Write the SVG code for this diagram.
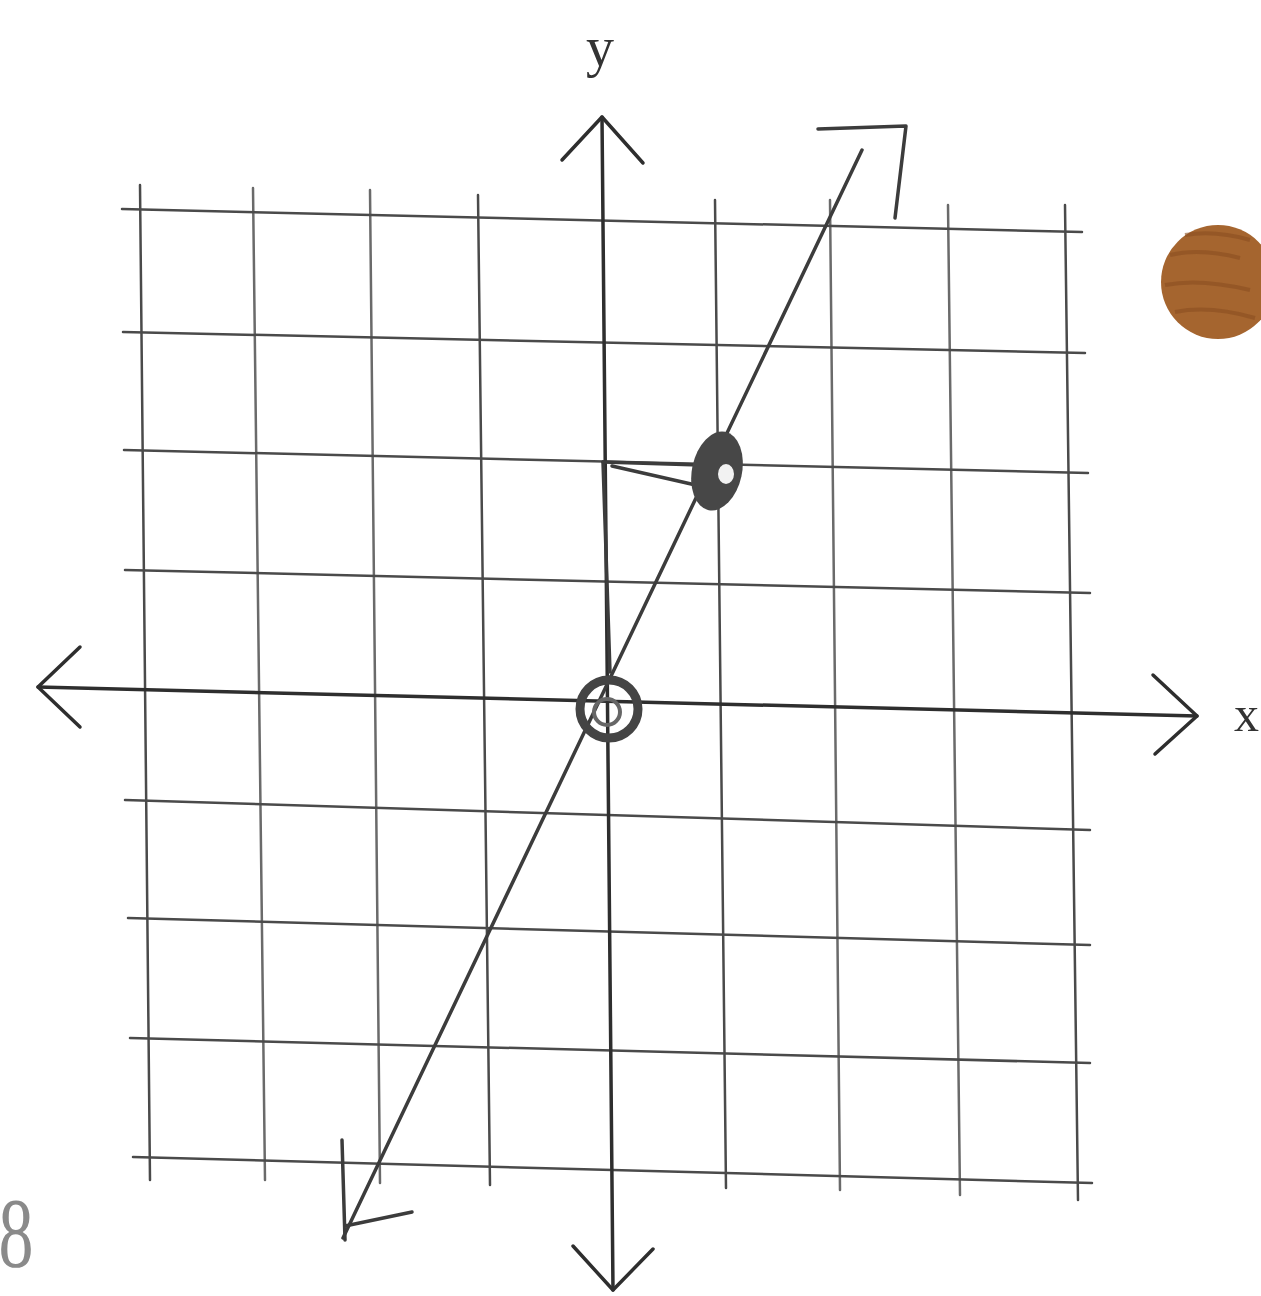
<svg xmlns="http://www.w3.org/2000/svg" width="1261" height="1296" viewBox="0 0 1261 1296">
<style>
.grid{stroke:#4a4a4a;stroke-width:2.5;fill:none;stroke-linecap:round}
.grid.lt{stroke:#6a6a6a}
.axis{stroke:#2e2e2e;stroke-width:3.5;fill:none;stroke-linecap:round;stroke-linejoin:round}
.pen{stroke:#3c3c3c;stroke-width:3.5;fill:none;stroke-linecap:round;stroke-linejoin:round}
.lbl{font-family:"Liberation Serif",serif;fill:#333}
</style>
<rect width="1261" height="1296" fill="#ffffff"/>
<g id="grid">
<line class="grid" x1="140" y1="185" x2="150" y2="1180"/>
<line class="grid lt" x1="253" y1="188" x2="265" y2="1180"/>
<line class="grid lt" x1="370" y1="190" x2="380" y2="1183"/>
<line class="grid" x1="478" y1="195" x2="490" y2="1185"/>
<line class="grid" x1="715" y1="200" x2="726" y2="1188"/>
<line class="grid lt" x1="830" y1="200" x2="840" y2="1190"/>
<line class="grid lt" x1="948" y1="205" x2="960" y2="1195"/>
<line class="grid" x1="1065" y1="205" x2="1078" y2="1200"/>
<line class="grid" x1="122" y1="209" x2="1082" y2="232"/>
<line class="grid" x1="123" y1="332" x2="1085" y2="353"/>
<line class="grid" x1="124" y1="450" x2="1088" y2="473"/>
<line class="grid" x1="125" y1="570" x2="1090" y2="593"/>
<line class="grid" x1="125" y1="800" x2="1090" y2="830"/>
<line class="grid" x1="128" y1="918" x2="1090" y2="945"/>
<line class="grid" x1="130" y1="1038" x2="1090" y2="1063"/>
<line class="grid" x1="133" y1="1157" x2="1092" y2="1183"/>
</g>
<g id="axes">
<line class="axis" x1="38" y1="687" x2="1197" y2="716"/>
<polyline class="axis" points="80,647 38,687 80,727"/>
<polyline class="axis" points="1153,675 1197,716 1155,754"/>
<line class="axis" x1="602" y1="117" x2="613" y2="1290"/>
<polyline class="axis" points="562,160 602,117 643,163"/>
<polyline class="axis" points="573,1246 613,1290 653,1249"/>
<text class="lbl" x="586" y="66" font-size="56">y</text>
<text class="lbl" x="1234" y="731" font-size="50">x</text>
</g>
<g id="connectors">
<line class="pen" x1="862" y1="150" x2="343" y2="1238"/>
<path class="pen" d="M818,129 L906,126 L895,218" stroke-width="5"/>
<path class="pen" d="M342,1140 L345,1240 M345,1226 L412,1212" stroke-width="5"/>
<path class="pen" d="M603,462 L610,672" stroke-width="6"/>
<path class="pen" d="M603,462 L700,465 M612,466 L700,486"/>
</g>
<g id="point-1-2">
<ellipse cx="717" cy="471" rx="25" ry="40" transform="rotate(12 717 471)" fill="#474747"/>
<ellipse cx="726" cy="474" rx="8" ry="10" fill="#f2f2f2"/>
</g>
<g id="point-origin">
<circle cx="609" cy="709" r="29" fill="none" stroke="#444" stroke-width="9"/>
<circle cx="607" cy="712" r="13" fill="none" stroke="#666" stroke-width="4"/>
</g>
<g id="brown-dot">
<circle cx="1218" cy="282" r="57" fill="#a5652f"/>
<path d="M1170,255 Q1200,248 1240,258 M1165,285 Q1200,278 1250,290 M1175,312 Q1210,305 1255,318 M1185,235 Q1215,230 1250,240" stroke="#8a4f22" stroke-width="4" fill="none" opacity="0.6"/>
</g>
<text class="lbl" x="-2" y="1266" font-size="100" style="fill:#8a8a8a" transform="scale(0.7,1)">8</text>
</svg>
